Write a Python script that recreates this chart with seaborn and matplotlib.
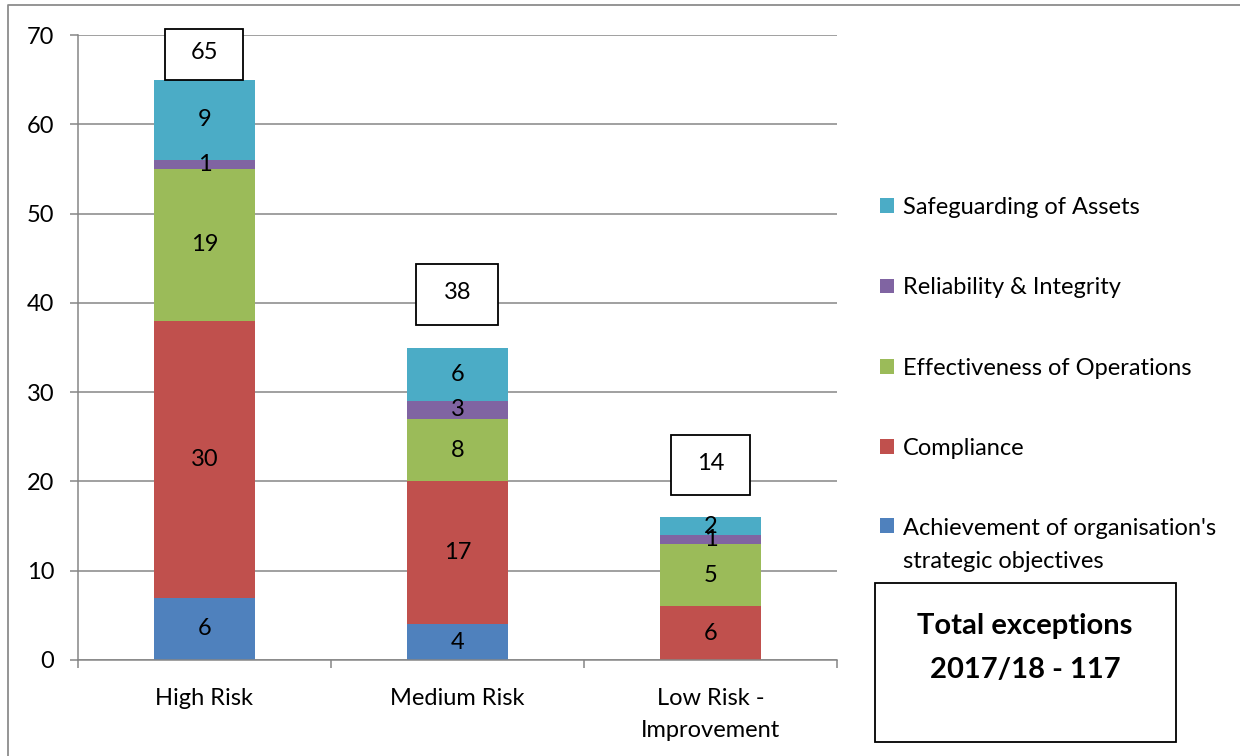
import numpy as np
import pandas as pd
import matplotlib
matplotlib.use("Agg")
import matplotlib.pyplot as plt
from matplotlib.patches import Rectangle, Patch
from matplotlib.lines import Line2D
from matplotlib.legend_handler import HandlerPatch
import seaborn as sns

# ---------------- data ----------------
categories = ["High Risk", "Medium Risk", "Low Risk -\nImprovement"]
series_names = ["Achievement of organisation's\nstrategic objectives", "Compliance",
                "Effectiveness of Operations", "Reliability & Integrity",
                "Safeguarding of Assets"]
# segment heights as drawn in the picture
achievement = [7, 4, 0]
compliance = [31, 16, 6]
effectiveness = [17, 7, 7]
reliability = [1, 2, 1]
safeguarding = [9, 6, 2]
# numbers printed on the segments
achievement_labels = [6, 4, None]
compliance_labels = [30, 17, 6]
effectiveness_labels = [19, 8, 5]
reliability_labels = [1, 3, 1]
safeguarding_labels = [9, 6, 2]
y_ticks = [0, 10, 20, 30, 40, 50, 60, 70]
total_title = "Total exceptions"
period = "2017/18"

# ---------------- style ----------------
colors = ["#4F81BD", "#C0504D", "#9BBB59", "#8064A2", "#4BACC6"]
grid_col = "#868686"
W, H = 1240, 756
FS = 17
box_gap_px = [0, 23, 22]
box_w_px = [78, 82, 79]
box_h_px = [51, 61, 60]

sns.set_theme(style="white")
plt.rcParams['font.family'] = ['Lato', 'DejaVu Sans']

fig = plt.figure(figsize=(W / 100, H / 100), dpi=100)
ax = fig.add_axes([78 / W, 1 - 660 / H, (837 - 78) / W, (660 - 35) / H])

heights = np.array([achievement, compliance, effectiveness, reliability, safeguarding], float)
labels = [achievement_labels, compliance_labels, effectiveness_labels,
          reliability_labels, safeguarding_labels]
cum = heights.cumsum(axis=0)
df = pd.DataFrame({
    "category": categories * len(series_names),
    "series": np.repeat(series_names, len(categories)),
    "top": cum.ravel(),
})

for i in reversed(range(len(series_names))):
    sub = df[df["series"] == series_names[i]]
    sns.barplot(data=sub, x="category", y="top", order=categories, color=colors[i],
                width=0.4, saturation=1, errorbar=None, edgecolor="none",
                linewidth=0, ax=ax, zorder=2)

# segment labels
for i in range(len(series_names)):
    for j in range(len(categories)):
        lab = labels[i][j]
        if lab is None:
            continue
        ax.text(j, cum[i, j] - heights[i, j] / 2, str(lab), ha="center", va="center",
                fontsize=FS, color="black", zorder=4)

# axes styling
ax.set_xlim(-0.5, len(categories) - 0.5)
ax.set_ylim(y_ticks[0], y_ticks[-1])
ax.set_yticks(y_ticks)
ax.set_xlabel("")
ax.set_ylabel("")
ax.yaxis.grid(True, color=grid_col, lw=1.1)
ax.set_axisbelow(True)
for s in ["top", "right"]:
    ax.spines[s].set_visible(False)
for s in ["left", "bottom"]:
    ax.spines[s].set_color(grid_col)
    ax.spines[s].set_linewidth(1.1)
ax.tick_params(axis="y", direction="out", left=True, length=6, width=1.1,
               color=grid_col, pad=11, labelsize=FS, labelcolor="black")
ax.set_xticks(np.arange(len(categories) + 1) - 0.5)
ax.set_xticklabels([])
ax.set_xticks(np.arange(len(categories)), minor=True)
ax.set_xticklabels(categories, minor=True)
ax.tick_params(axis="x", which="major", direction="out", bottom=True, length=6,
               width=1.1, color=grid_col)
ax.tick_params(axis="x", which="minor", bottom=True, length=0, pad=20,
               labelsize=FS, labelcolor="black")
for t in ax.get_xticklabels(minor=True):
    t.set_linespacing(1.65)

# total boxes
ax_h_px = ax.get_position().height * H
ax_w_px = ax.get_position().width * W
dy = (y_ticks[-1] - y_ticks[0]) / ax_h_px
dx = len(categories) / ax_w_px
totals = [sum(v for v in col if v is not None) for col in zip(*labels)]
for j, tot in enumerate(totals):
    bottom = cum[-1, j] + box_gap_px[j] * dy
    w = box_w_px[j] * dx
    h = box_h_px[j] * dy
    ax.add_patch(Rectangle((j - w / 2, bottom), w, h, facecolor="white",
                           edgecolor="black", lw=1.3, clip_on=False, zorder=5))
    ax.text(j, bottom + h / 2 + 1.5 * dy, str(tot), ha="center", va="center",
            fontsize=FS, color="black", zorder=6, clip_on=False)


# legend
class ShiftedHandler(HandlerPatch):
    def __init__(self, shift):
        super().__init__()
        self.shift = shift

    def create_artists(self, legend, orig_handle, xdescent, ydescent, width, height,
                       fontsize, trans):
        p = Rectangle((-xdescent, -ydescent + self.shift), width, height,
                      facecolor=orig_handle.get_facecolor(), edgecolor="none",
                      transform=trans)
        return [p]


handles = [Patch(facecolor=colors[i], edgecolor="none", label=series_names[i])
           for i in reversed(range(len(series_names)))]
leg = ax.legend(handles=handles, loc="upper left",
                bbox_to_anchor=(880 / W, 1 - 197 / H), bbox_transform=fig.transFigure,
                frameon=False, fontsize=FS, handlelength=0.58, handleheight=0.58,
                handletextpad=0.4, labelspacing=2.51, borderpad=0, borderaxespad=0,
                handler_map={handles[-1]: ShiftedHandler(14)})
for t in leg.get_texts():
    t.set_color("black")
leg.get_texts()[-1].set_linespacing(1.7)

# total exceptions box
fig.add_artist(Rectangle((875 / W, 1 - 742 / H), (1176 - 875) / W, (742 - 583) / H,
                         transform=fig.transFigure, fill=False, edgecolor="black", lw=1.3))
fig.text(1025 / W, 1 - 648 / H, f"{total_title}\n{period} - {sum(totals)}",
         ha="center", va="center", fontsize=21, fontweight="bold", color="black",
         linespacing=1.9)

# outer frame
fig.add_artist(Line2D([8 / W, 8 / W, 1], [0, 1 - 5 / H, 1 - 5 / H],
                      transform=fig.transFigure, color="#8c8c8c", lw=1.3))

fig.savefig("out.png", dpi=100)
